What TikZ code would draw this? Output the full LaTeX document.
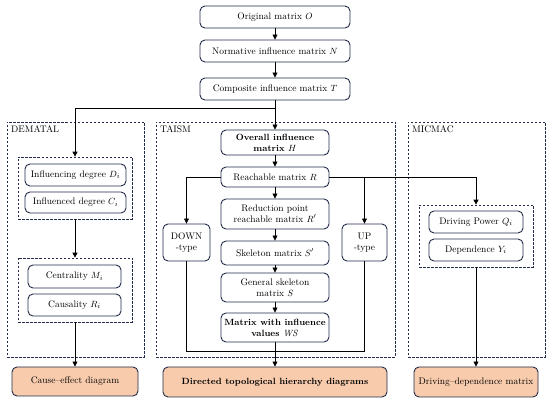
\documentclass[tikz,border=0pt]{standalone}
\usetikzlibrary{arrows.meta}
\definecolor{navy}{RGB}{35,45,75}
\definecolor{peach}{RGB}{248,203,173}
\begin{document}
\begin{tikzpicture}[x=1pt,y=-1pt,
  font=\fontsize{9.5}{11}\selectfont,
  bx/.style={draw=navy,line width=0.9pt,rounded corners=5pt,fill=white,inner sep=1pt,align=center},
  boldtxt/.style={font=\fontsize{9}{11}\selectfont\bfseries},
  outbx/.style={bx,fill=peach},
  dbox/.style={draw=navy,line width=0.7pt,dash pattern=on 2.5pt off 1.5pt,inner sep=0pt},
  lbl/.style={anchor=north west,inner sep=0pt},
  conn/.style={line width=0.75pt,black},
  arr/.style={conn,-{Triangle[length=5pt,width=5pt]}}]
\useasboundingbox (0,0) rectangle (550,403);
% top chain
\node[bx,minimum width=150pt,minimum height=22pt] (O) at (275,17) {Original matrix $O$};
\node[bx,minimum width=150pt,minimum height=22pt] (N) at (275,51) {Normative influence matrix $N$};
\node[bx,minimum width=150pt,minimum height=22pt] (T) at (275,89) {Composite influence matrix $T$};
% outer dashed boxes
\node[dbox,minimum width=137pt,minimum height=235pt] (dem) at (75.5,239.5) {};
\node[dbox,minimum width=239pt,minimum height=235pt] (tai) at (275.5,239.5) {};
\node[dbox,minimum width=137pt,minimum height=235pt] (mic) at (476.5,239.5) {};
\node[lbl] (demL) at (11,126) {DEMATAL};
\node[lbl] (taiL) at (160,126) {TAISM};
\node[lbl] (micL) at (412,126) {MICMAC};
% DEMATAL
\node[dbox,minimum width=114pt,minimum height=62pt] (dem1) at (75,188) {};
\node[bx,minimum width=101pt,minimum height=22pt] (ID) at (75.5,175) {Influencing degree $D_i$};
\node[bx,minimum width=101pt,minimum height=21pt] (IC) at (75.5,202.5) {Influenced degree $C_i$};
\node[dbox,minimum width=114pt,minimum height=64pt] (dem2) at (75,290) {};
\node[bx,minimum width=93pt,minimum height=23pt] (CM) at (74.5,276.5) {Centrality $M_i$};
\node[bx,minimum width=93pt,minimum height=22pt] (CR) at (74.5,305) {Causality $R_i$};
% TAISM
\node[bx,boldtxt,minimum width=108pt,minimum height=25pt] (H) at (275,142.5) {Overall influence\\matrix \textmd{$H$}};
\node[bx,minimum width=108pt,minimum height=20pt] (R) at (275,177) {Reachable matrix $R$};
\node[bx,minimum width=108pt,minimum height=30pt] (Rp) at (275,214) {Reduction point\\reachable matrix $R'$};
\node[bx,minimum width=108pt,minimum height=24pt] (Sp) at (275,253) {Skeleton matrix $S'$};
\node[bx,minimum width=108pt,minimum height=29pt] (GS) at (275,287.5) {General skeleton\\matrix $S$};
\node[bx,boldtxt,minimum width=108pt,minimum height=29pt] (WS) at (275,327.5) {Matrix with influence\\values \textmd{$\mathit{WS}$}};
\node[bx,minimum width=47pt,minimum height=37pt] (DN) at (186.5,242.5) {DOWN\\-type};
\node[bx,minimum width=45pt,minimum height=37pt] (UP) at (364.5,242.5) {UP\\-type};
% MICMAC
\node[dbox,minimum width=114pt,minimum height=62pt] (mic1) at (476,236) {};
\node[bx,minimum width=94pt,minimum height=22pt] (DP) at (476,222) {Driving Power $Q_i$};
\node[bx,minimum width=94pt,minimum height=22pt] (DE) at (476,250) {Dependence $Y_i$};
% outputs
\node[outbx,minimum width=126pt,minimum height=29pt] (CE) at (75,381.5) {Cause--effect diagram};
\node[outbx,boldtxt,minimum width=224pt,minimum height=30pt] (DT) at (275,382) {Directed topological hierarchy diagrams};
\node[outbx,minimum width=124pt,minimum height=30pt] (DD) at (476,382) {Driving--dependence matrix};
% connectors
\draw[arr] (O) -- (N);
\draw[arr] (N) -- (T);
\draw[arr] (T) -- (H);
\coordinate (br) at (275,108);
\draw[arr] (T.south) -- (br) -| (dem1.north);
\draw[arr] (dem1) -- (dem2);
\draw[arr] (dem2) -- (CE);
\draw[arr] (H) -- (R);
\draw[arr] (R) -- (Rp);
\draw[arr] (Rp) -- (Sp);
\draw[arr] (Sp) -- (GS);
\draw[arr] (GS) -- (WS);
\draw[arr] (R.west) -| (DN.north);
\draw[arr] (R.east) -| (UP.north);
\draw[arr] (R.east) -| (mic1.north);
\coordinate (bot) at (275,351);
\draw[conn] (DN.south) -- (DN.south |- bot) -- (UP.south |- bot) -- (UP.south);
\draw[arr] (WS) -- (DT);
\draw[arr] (mic1) -- (DD);
\end{tikzpicture}
\end{document}
